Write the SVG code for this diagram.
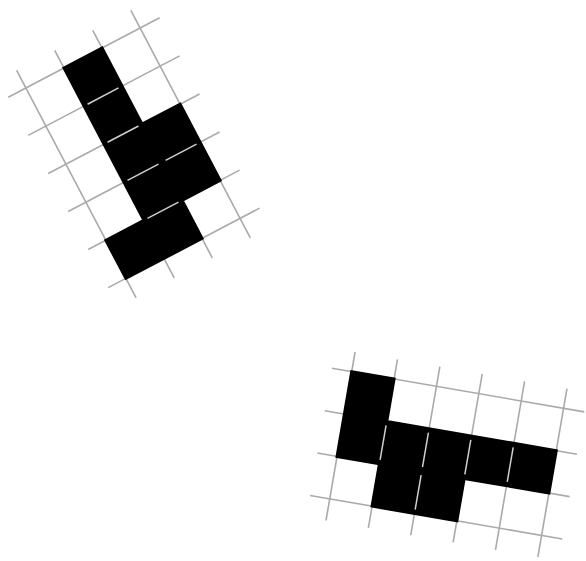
<svg xmlns="http://www.w3.org/2000/svg" width="586" height="561" viewBox="0 0 586 561">
<style>
.grid line{stroke:#aaaaaa;stroke-width:1.6;fill:none}
.cells{fill:#000;stroke:#000;stroke-width:3;stroke-linejoin:miter}
.div line{stroke:#cfcfcf;stroke-width:1.5}
</style>
<rect width="586" height="561" fill="#fff"/>
<g id="shape1" transform="translate(64,68) rotate(-27.7)">
<g class="grid">
<line x1="-43" y1="-20" x2="-43" y2="237"/>
<line x1="0" y1="-20" x2="0" y2="237"/>
<line x1="43" y1="-20" x2="43" y2="237"/>
<line x1="86" y1="-20" x2="86" y2="237"/>
<line x1="-63" y1="0" x2="108" y2="0"/>
<line x1="-63" y1="43" x2="108" y2="43"/>
<line x1="-63" y1="86" x2="108" y2="86"/>
<line x1="-63" y1="129" x2="108" y2="129"/>
<line x1="-63" y1="172" x2="108" y2="172"/>
<line x1="-63" y1="215" x2="108" y2="215"/>
</g>
<polygon class="cells" points="0,0 43,0 43,86 86,86 86,172 43,172 43,215 -43,215 -43,172 0,172"/>
<g class="div">
<line x1="4" y1="43" x2="39" y2="43"/>
<line x1="4" y1="86" x2="39" y2="86"/>
<line x1="4" y1="129" x2="39" y2="129"/>
<line x1="47" y1="129" x2="82" y2="129"/>
<line x1="4" y1="172" x2="39" y2="172"/>
</g>
</g>
<g id="shape2" transform="translate(351.7,371.7) rotate(9.8)">
<g class="grid">
<line x1="0" y1="-20" x2="0" y2="151"/>
<line x1="43" y1="-20" x2="43" y2="151"/>
<line x1="86" y1="-20" x2="86" y2="151"/>
<line x1="129" y1="-20" x2="129" y2="151"/>
<line x1="172" y1="-20" x2="172" y2="151"/>
<line x1="215" y1="-20" x2="215" y2="151"/>
<line x1="-20" y1="0" x2="236" y2="0"/>
<line x1="-20" y1="43" x2="236" y2="43"/>
<line x1="-20" y1="86" x2="236" y2="86"/>
<line x1="-20" y1="129" x2="236" y2="129"/>
</g>
<polygon class="cells" points="0,0 43,0 43,43 215,43 215,86 129,86 129,129 43,129 43,86 0,86"/>
<g class="div">
<line x1="43" y1="47" x2="43" y2="82"/>
<line x1="86" y1="47" x2="86" y2="82"/>
<line x1="129" y1="47" x2="129" y2="82"/>
<line x1="172" y1="47" x2="172" y2="82"/>
<line x1="86" y1="90" x2="86" y2="125"/>
</g>
</g>
</svg>
